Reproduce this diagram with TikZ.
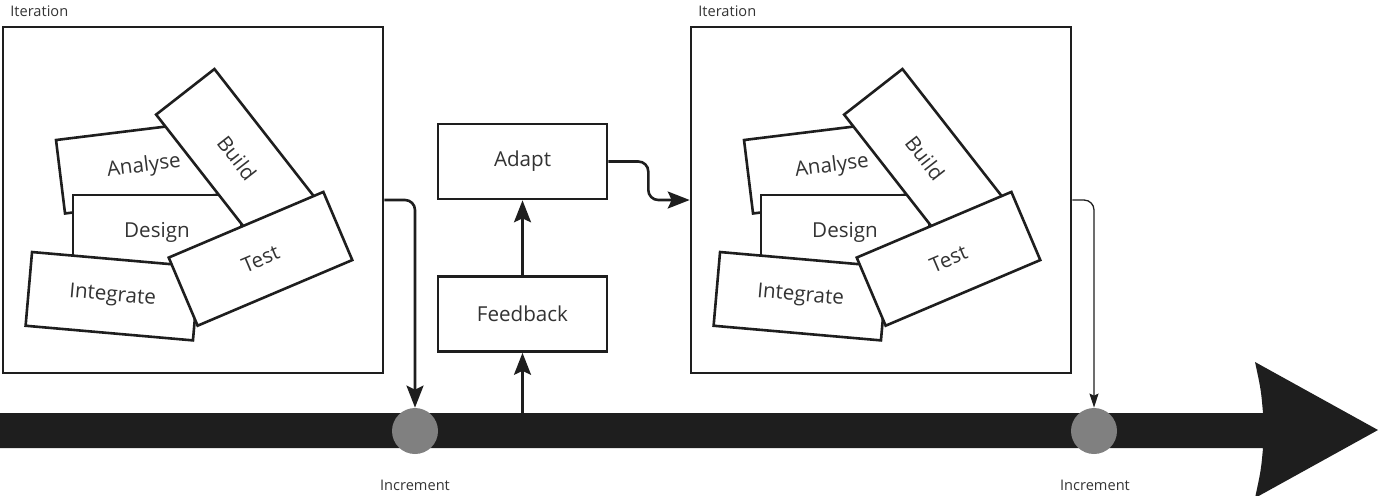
\documentclass[tikz,border=0pt]{standalone}
\usepackage{fontspec}
\setmainfont{Open Sans}
\usepackage{xcolor}
\definecolor{inkdark}{HTML}{1E1E1E}
\definecolor{incgray}{HTML}{808080}
\definecolor{textgray}{HTML}{333333}
\usepackage{tikz}
\usetikzlibrary{positioning,arrows.meta,calc}

\begin{document}
\begin{tikzpicture}[
  x=0.5pt, y=-0.5pt,
  frame/.style={
    draw=inkdark, line width=1.3pt,
    minimum width=190pt, minimum height=173pt, inner sep=0pt,
  },
  phase/.style={
    draw=inkdark, line width=1.3pt, fill=white,
    minimum width=84pt, minimum height=37pt, inner sep=0pt,
    text=textgray, font=\fontsize{10.3}{12}\selectfont,
  },
  stepbox/.style={
    draw=inkdark, line width=1.3pt, fill=white,
    minimum width=84.5pt, minimum height=37.5pt, inner sep=0pt,
    text=textgray, font=\fontsize{10.3}{12}\selectfont,
  },
  tag/.style={font=\fontsize{7.3}{9}\selectfont, text=textgray, inner sep=0pt},
  incdot/.style={circle, fill=incgray, minimum size=23pt, inner sep=0pt},
  flow/.style={draw=inkdark, line width=1.3pt, rounded corners=5pt,
    -{Stealth[length=11pt, width=8.5pt, inset=2pt]}},
  thinflow/.style={draw=inkdark, line width=0.65pt, rounded corners=5pt,
    -{Stealth[length=7pt, width=4.5pt, inset=1pt]}},
]
\useasboundingbox (0,0) rectangle (1379,495);

% === TIMELINE ===
\fill[inkdark] (0,413) -- (1263,413) .. controls (1261,390) .. (1255,362)
  -- (1378,430) -- (1255,498) .. controls (1261,470) .. (1263,448)
  -- (0,448) -- cycle;
\coordinate (fbBase) at (522.5,413);

\node[incdot] (incL) at (415,431) {};
\node[incdot] (incR) at (1094,431) {};
\node[tag] (incLblL) at (415,485) {Increment};
\node[tag] (incLblR) at (1095,485) {Increment};

% === FIRST ITERATION ===
\node[frame] (itL) at (193,200) {};
\node[tag, anchor=west] (itLblL) at (10,11) {Iteration};

\node[phase, rotate=7]   (anL) at (143.9,166.5) {Analyse};
\node[phase]             (deL) at (157,232)     {Design};
\node[phase, rotate=-52] (buL) at (237,158)     {Build};
\node[phase, rotate=-5]  (inL) at (112.5,296.2) {Integrate};
\node[phase, rotate=23]  (teL) at (260.5,258.8) {Test};

% === SECOND ITERATION ===
\node[frame] (itR) at (881,200) {};
\node[tag, anchor=west] (itLblR) at (698,11) {Iteration};

\node[phase, rotate=7]   (anR) at (831.9,166.5) {Analyse};
\node[phase]             (deR) at (845,232)     {Design};
\node[phase, rotate=-52] (buR) at (925,158)     {Build};
\node[phase, rotate=-5]  (inR) at (800.5,296.2) {Integrate};
\node[phase, rotate=23]  (teR) at (948.5,258.8) {Test};

% === FEEDBACK LOOP ===
\node[stepbox] (fb) at (522.5,314)   {Feedback};
\node[stepbox] (ad) at (522.5,161.5) {Adapt};

% === CONNECTORS ===
\draw[flow] (itL.east) -| (incL.north);
\draw[flow] (fbBase) -- (fb.south);
\draw[flow] (fb.north) -- (ad.south);
\draw[flow] (ad.east) -- ++(40,0) |- (itR.west);
\draw[thinflow] (itR.east) -| (incR.north);

\end{tikzpicture}
\end{document}
